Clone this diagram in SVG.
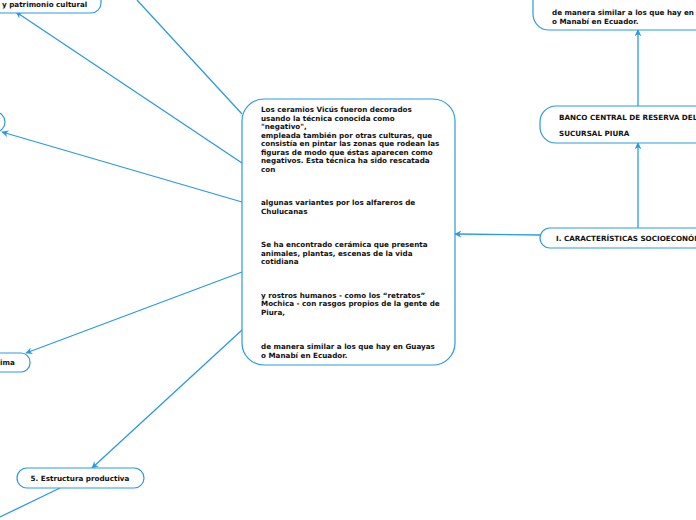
<svg xmlns="http://www.w3.org/2000/svg" width="696" height="520" viewBox="0 0 696 520">
<defs>
<style>
.n{fill:#fff;stroke:#2a9be0;stroke-width:1.2}
.c{fill:none;stroke:#2a9be0;stroke-width:1.3}
.t{font-family:"DejaVu Sans",Verdana,sans-serif;font-weight:bold;font-size:7.2px;fill:#111}
</style>
<marker id="a" viewBox="0 0 10 10" refX="9" refY="5" markerWidth="7" markerHeight="7" orient="auto" markerUnits="userSpaceOnUse"><path d="M0,0 L10,5 L0,10 L3,5 z" fill="#2a9be0"/></marker>
</defs>
<rect width="696" height="520" fill="#fff"/>
<g id="connectors">
<line class="c" x1="137" y1="0" x2="242" y2="114"/>
<line class="c" x1="242" y1="163" x2="16" y2="12" marker-end="url(#a)"/>
<line class="c" x1="242" y1="202" x2="2" y2="132" marker-end="url(#a)"/>
<line class="c" x1="242" y1="272" x2="26" y2="353" marker-end="url(#a)"/>
<line class="c" x1="242" y1="330" x2="92" y2="468" marker-end="url(#a)"/>
<line class="c" x1="60" y1="488" x2="0" y2="517"/>
<line class="c" x1="540" y1="235" x2="455" y2="234" marker-end="url(#a)"/>
<line class="c" x1="638" y1="228" x2="638" y2="143" marker-end="url(#a)"/>
<line class="c" x1="638" y1="106" x2="638" y2="30" marker-end="url(#a)"/>
</g>
<g id="node-patrimonio">
<rect class="n" x="-30" y="-20" width="131" height="33" rx="10"/>
<text class="t" x="2" y="6.5">y patrimonio cultural</text>
</g>
<g id="node-left">
<rect class="n" x="-30" y="112" width="35" height="20" rx="10"/>
</g>
<g id="node-clima">
<rect class="n" x="-30" y="353" width="60" height="19" rx="9"/>
<text class="t" x="0" y="365">ima</text>
</g>
<g id="node-estructura">
<rect class="n" x="17" y="468" width="127" height="20" rx="10"/>
<text class="t" x="80" y="480.5" text-anchor="middle">5. Estructura productiva</text>
</g>
<g id="node-central">
<rect class="n" x="242" y="99" width="213" height="266" rx="22"/>
<text class="t">
<tspan x="261" y="112">Los ceramios Vicús fueron decorados</tspan>
<tspan x="261" y="120.5">usando la técnica conocida como</tspan>
<tspan x="261" y="129">"negativo",</tspan>
<tspan x="261" y="137.5">empleada también por otras culturas, que</tspan>
<tspan x="261" y="146">consistía en pintar las zonas que rodean las</tspan>
<tspan x="261" y="154.5">figuras de modo que éstas aparecen como</tspan>
<tspan x="261" y="163">negativos. Esta técnica ha sido rescatada</tspan>
<tspan x="261" y="171.5">con</tspan>
<tspan x="261" y="205">algunas variantes por los alfareros de</tspan>
<tspan x="261" y="213.5">Chulucanas</tspan>
<tspan x="261" y="247">Se ha encontrado cerámica que presenta</tspan>
<tspan x="261" y="255.5">animales, plantas, escenas de la vida</tspan>
<tspan x="261" y="264">cotidiana</tspan>
<tspan x="261" y="297.5">y rostros humanos - como los “retratos”</tspan>
<tspan x="261" y="306">Mochica - con rasgos propios de la gente de</tspan>
<tspan x="261" y="314.5">Piura,</tspan>
<tspan x="261" y="349">de manera similar a los que hay en Guayas</tspan>
<tspan x="261" y="357.5">o Manabí en Ecuador.</tspan>
</text>
</g>
<g id="node-caracteristicas">
<rect class="n" x="540" y="228" width="200" height="20" rx="10"/>
<text class="t" x="556" y="240.5">I. CARACTERÍSTICAS SOCIOECONÓMICAS</text>
</g>
<g id="node-banco">
<rect class="n" x="540" y="106" width="200" height="37" rx="16"/>
<text class="t" x="559" y="119.5">BANCO CENTRAL DE RESERVA DEL PERÚ</text>
<text class="t" x="559" y="135.5">SUCURSAL PIURA</text>
</g>
<g id="node-top-right">
<rect class="n" x="533" y="-30" width="200" height="60" rx="16"/>
<text class="t" x="552" y="15">de manera similar a los que hay en Guayas</text>
<text class="t" x="552" y="23.5">o Manabí en Ecuador.</text>
</g>
</svg>
